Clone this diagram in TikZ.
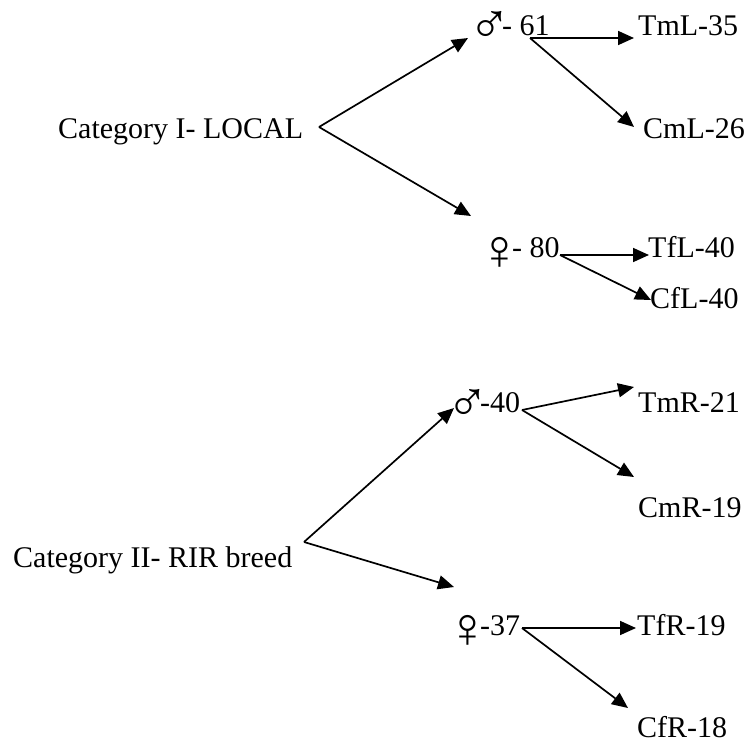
\documentclass[tikz,border=0pt]{standalone}
\usepackage{fontspec}
\setmainfont{Liberation Serif}
\usetikzlibrary{arrows.meta}
\newcommand{\gmale}{\makebox[21pt][c]{\raisebox{-9pt}{\scalebox{1.9}{♂}}}\hspace{2pt}}
\newcommand{\gfemale}{\makebox[21pt][c]{\raisebox{-12pt}{\scalebox{1.9}{♀}}}\hspace{2pt}}
\begin{document}
\begin{tikzpicture}[x=1pt,y=-1pt,
  lbl/.style={anchor=base west,inner sep=0pt,font=\fontsize{30}{36}\selectfont},
  arr/.style={line width=1.7pt,-{Triangle[length=16pt,width=14pt]}}]
\useasboundingbox (0,0) rectangle (747,744);
% texts
\node[lbl] (c1) at (58,138) {Category I- LOCAL};
\node[lbl] (m1) at (479,35) {\gmale- 61};
\node[lbl] (f1) at (489,257) {\gfemale- 80};
\node[lbl] (tml) at (638,35) {TmL-35};
\node[lbl] (cml) at (643,138) {CmL-26};
\node[lbl] (tfl) at (648,257) {TfL-40};
\node[lbl] (cfl) at (650,308) {CfL-40};
\node[lbl] (c2) at (13,567) {Category II- RIR breed};
\node[lbl] (m2) at (457,412) {\gmale-40};
\node[lbl] (f2) at (457,635) {\gfemale-37};
\node[lbl] (tmr) at (638,412) {TmR-21};
\node[lbl] (cmr) at (638,517) {CmR-19};
\node[lbl] (tfr) at (637,635) {TfR-19};
\node[lbl] (cfr) at (637,737) {CfR-18};
% connector points
\coordinate (v1) at (319,127);
\coordinate (v1u) at (468,38);
\coordinate (v1d) at (471,216);
\coordinate (s1) at (530,38);
\coordinate (s1a) at (634,38);
\coordinate (s1b) at (634,127);
\coordinate (s2) at (560,255);
\coordinate (s2a) at (649,255);
\coordinate (s2b) at (651,300);
\coordinate (v2) at (304,542);
\coordinate (v2u) at (454,408);
\coordinate (v2d) at (454,587);
\coordinate (s3) at (522,410);
\coordinate (s3a) at (634,387);
\coordinate (s3b) at (634,477);
\coordinate (s4) at (522,628);
\coordinate (s4a) at (636,628);
\coordinate (s4b) at (628,708);
% arrows
\draw[arr] (v1) -- (v1u);
\draw[arr] (v1) -- (v1d);
\draw[arr] (s1) -- (s1a);
\draw[arr] (s1) -- (s1b);
\draw[arr] (s2) -- (s2a);
\draw[arr] (s2) -- (s2b);
\draw[arr] (v2) -- (v2u);
\draw[arr] (v2) -- (v2d);
\draw[arr] (s3) -- (s3a);
\draw[arr] (s3) -- (s3b);
\draw[arr] (s4) -- (s4a);
\draw[arr] (s4) -- (s4b);
\end{tikzpicture}
\end{document}
